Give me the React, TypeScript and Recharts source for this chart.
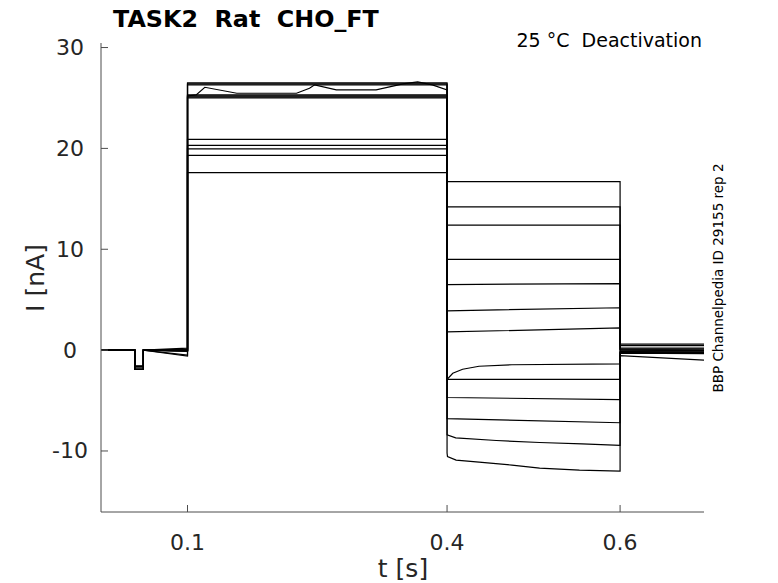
import { LineChart, Line, XAxis, YAxis } from "recharts"

// protocol times (s)
const tDipStart = 0.039
const tDipEnd = 0.049
const tPre = 0.1
const tTail = 0.4
const tPost = 0.6
const tEnd = 0.697

// per-sweep current levels (nA)
const dipLevel = [-1.6, -1.9, -1.6, -1.9, -1.6, -1.9, -1.6, -1.9, -1.6, -1.9, -1.6, -1.9, -1.7]
const baseLate = [0.2, 0.0, 0.0, -0.05, 0.0, -0.1, 0.0, -0.6, -0.1, -0.5, 0.0, -0.1, 0.0]
const preLevel = [26.5, 26.4, 26.3, 25.4, 25.3, 25.2, 25.1, 25.0, 20.9, 20.3, 19.95, 19.3, 17.6]
const tailStart = [16.7, 14.2, 12.4, 9.0, 6.5, 3.9, 1.8, -2.9, -2.9, -4.7, -6.8, -8.4, -10.2]
const tailEnd = [16.7, 14.2, 12.4, 9.0, 6.6, 4.2, 2.2, -1.4, -2.9, -4.9, -7.2, -9.45, -12.0]
const postStart = [0.6, 0.45, 0.2, 0.1, 0.05, 0.0, -0.1, -0.15, -0.2, -0.25, -0.3, -0.2, -0.55]
const postEnd = [0.6, 0.45, 0.2, 0.1, 0.0, -0.05, -0.1, -0.2, -0.25, -0.3, -0.35, -0.3, -1.0]

// sweeps with visible shape inside a step: [t, I]
const wavyPre: [number, number][] = [
  [0.1, 25.2], [0.11, 25.3], [0.12, 26.06], [0.157, 25.47], [0.226, 25.47], [0.241, 25.97],
  [0.247, 26.3], [0.272, 25.8], [0.318, 25.8], [0.349, 26.4], [0.366, 26.6], [0.383, 26.3], [0.4, 25.8],
]
const recoveryTail: [number, number][] = [
  [0.4, -2.9], [0.4066, -2.3], [0.418, -1.9], [0.437, -1.6], [0.475, -1.45], [0.6, -1.36],
]
const slowTail: [number, number][] = [
  [0.4, -8.4], [0.41, -8.7], [0.457, -8.96], [0.507, -9.16], [0.556, -9.3], [0.6, -9.45],
]
const bottomTail: [number, number][] = [
  [0.4, -10.2], [0.4005, -10.55], [0.4105, -10.9], [0.437, -11.1], [0.475, -11.4],
  [0.507, -11.7], [0.553, -11.9], [0.6, -12.0],
]
const customPre: Record<number, [number, number][]> = { 3: wavyPre }
const customTail: Record<number, [number, number][]> = { 7: recoveryTail, 11: slowTail, 12: bottomTail }

const xTicks = [0.1, 0.4, 0.6]
const yTicks = [-10, 0, 10, 20, 30]

function sweep(i: number) {
  const pre = customPre[i] ?? [[tPre, preLevel[i]], [tTail, preLevel[i]]]
  const tail = customTail[i] ?? [[tTail, tailStart[i]], [tPost, tailEnd[i]]]
  const pts: [number, number][] = [
    [0, 0], [tDipStart, 0], [tDipStart, dipLevel[i]], [tDipEnd, dipLevel[i]], [tDipEnd, 0],
    [tPre, baseLate[i]],
    ...pre,
    ...tail,
    [tPost, postStart[i]], [tEnd, postEnd[i]],
  ]
  return pts.map(([t, I]) => ({ t, I }))
}

const sweeps = preLevel.map((_, i) => sweep(i))

const font = "'DejaVu Sans', sans-serif"
const axisColor = "#4d4d4d"
const textColor = "#262626"

const YTick = (props: any) => {
  const { x, y, payload } = props
  return (
    <g>
      <line x1={x} x2={x + 7} y1={y} y2={y} stroke={axisColor} />
      <text x={x - 31} y={y} textAnchor="middle" dominantBaseline="central" fontSize={22} fontFamily={font} fill={textColor}>
        {payload.value}
      </text>
    </g>
  )
}

const XTick = (props: any) => {
  const { x, y, payload } = props
  return (
    <g>
      <line x1={x} x2={x} y1={y} y2={y - 7} stroke={axisColor} />
      <text x={x} y={y + 30} textAnchor="middle" dominantBaseline="central" fontSize={22} fontFamily={font} fill={textColor}>
        {payload.value}
      </text>
    </g>
  )
}

export default function App() {
  return (
    <div style={{ position: "absolute", left: 0, top: 0, width: 778, height: 583, background: "#fff" }}>
      <LineChart width={778} height={583} margin={{ top: 43, right: 74, bottom: 0, left: 0 }}>
        <XAxis
          dataKey="t"
          type="number"
          domain={[0, tEnd]}
          ticks={xTicks}
          allowDataOverflow
          height={71}
          tickSize={0}
          tickMargin={0}
          tickLine={false}
          tick={<XTick />}
          stroke={axisColor}
        />
        <YAxis
          type="number"
          domain={[-16.05, 30.45]}
          ticks={yTicks}
          allowDataOverflow
          width={101}
          tickSize={0}
          tickMargin={0}
          tickLine={false}
          tick={<YTick />}
          stroke={axisColor}
        />
        {sweeps.map((d, i) => (
          <Line
            key={i}
            data={d}
            dataKey="I"
            type="linear"
            stroke="#000"
            strokeWidth={1.2}
            dot={false}
            isAnimationActive={false}
          />
        ))}
      </LineChart>
      <svg width={778} height={583} style={{ position: "absolute", left: 0, top: 0, pointerEvents: "none" }}>
        <text x={113} y={27} fontSize={23.8} fontWeight="bold" fontFamily={font} fill="#000" style={{ whiteSpace: "pre" }}>
          TASK2  Rat  CHO_FT
        </text>
        <text x={702} y={47} textAnchor="end" fontSize={19} fontFamily={font} fill="#000" style={{ whiteSpace: "pre" }}>
          25 °C  Deactivation
        </text>
        <text x={403} y={577} textAnchor="middle" fontSize={25} fontFamily={font} fill={textColor}>
          t [s]
        </text>
        <text transform="translate(44,278) rotate(-90)" textAnchor="middle" fontSize={25} fontFamily={font} fill={textColor}>
          I [nA]
        </text>
        <text transform="translate(718,278) rotate(-90)" textAnchor="middle" dominantBaseline="central" fontSize={13.5} fontFamily={font} fill="#000">
          BBP Channelpedia ID 29155 rep 2
        </text>
      </svg>
    </div>
  )
}
